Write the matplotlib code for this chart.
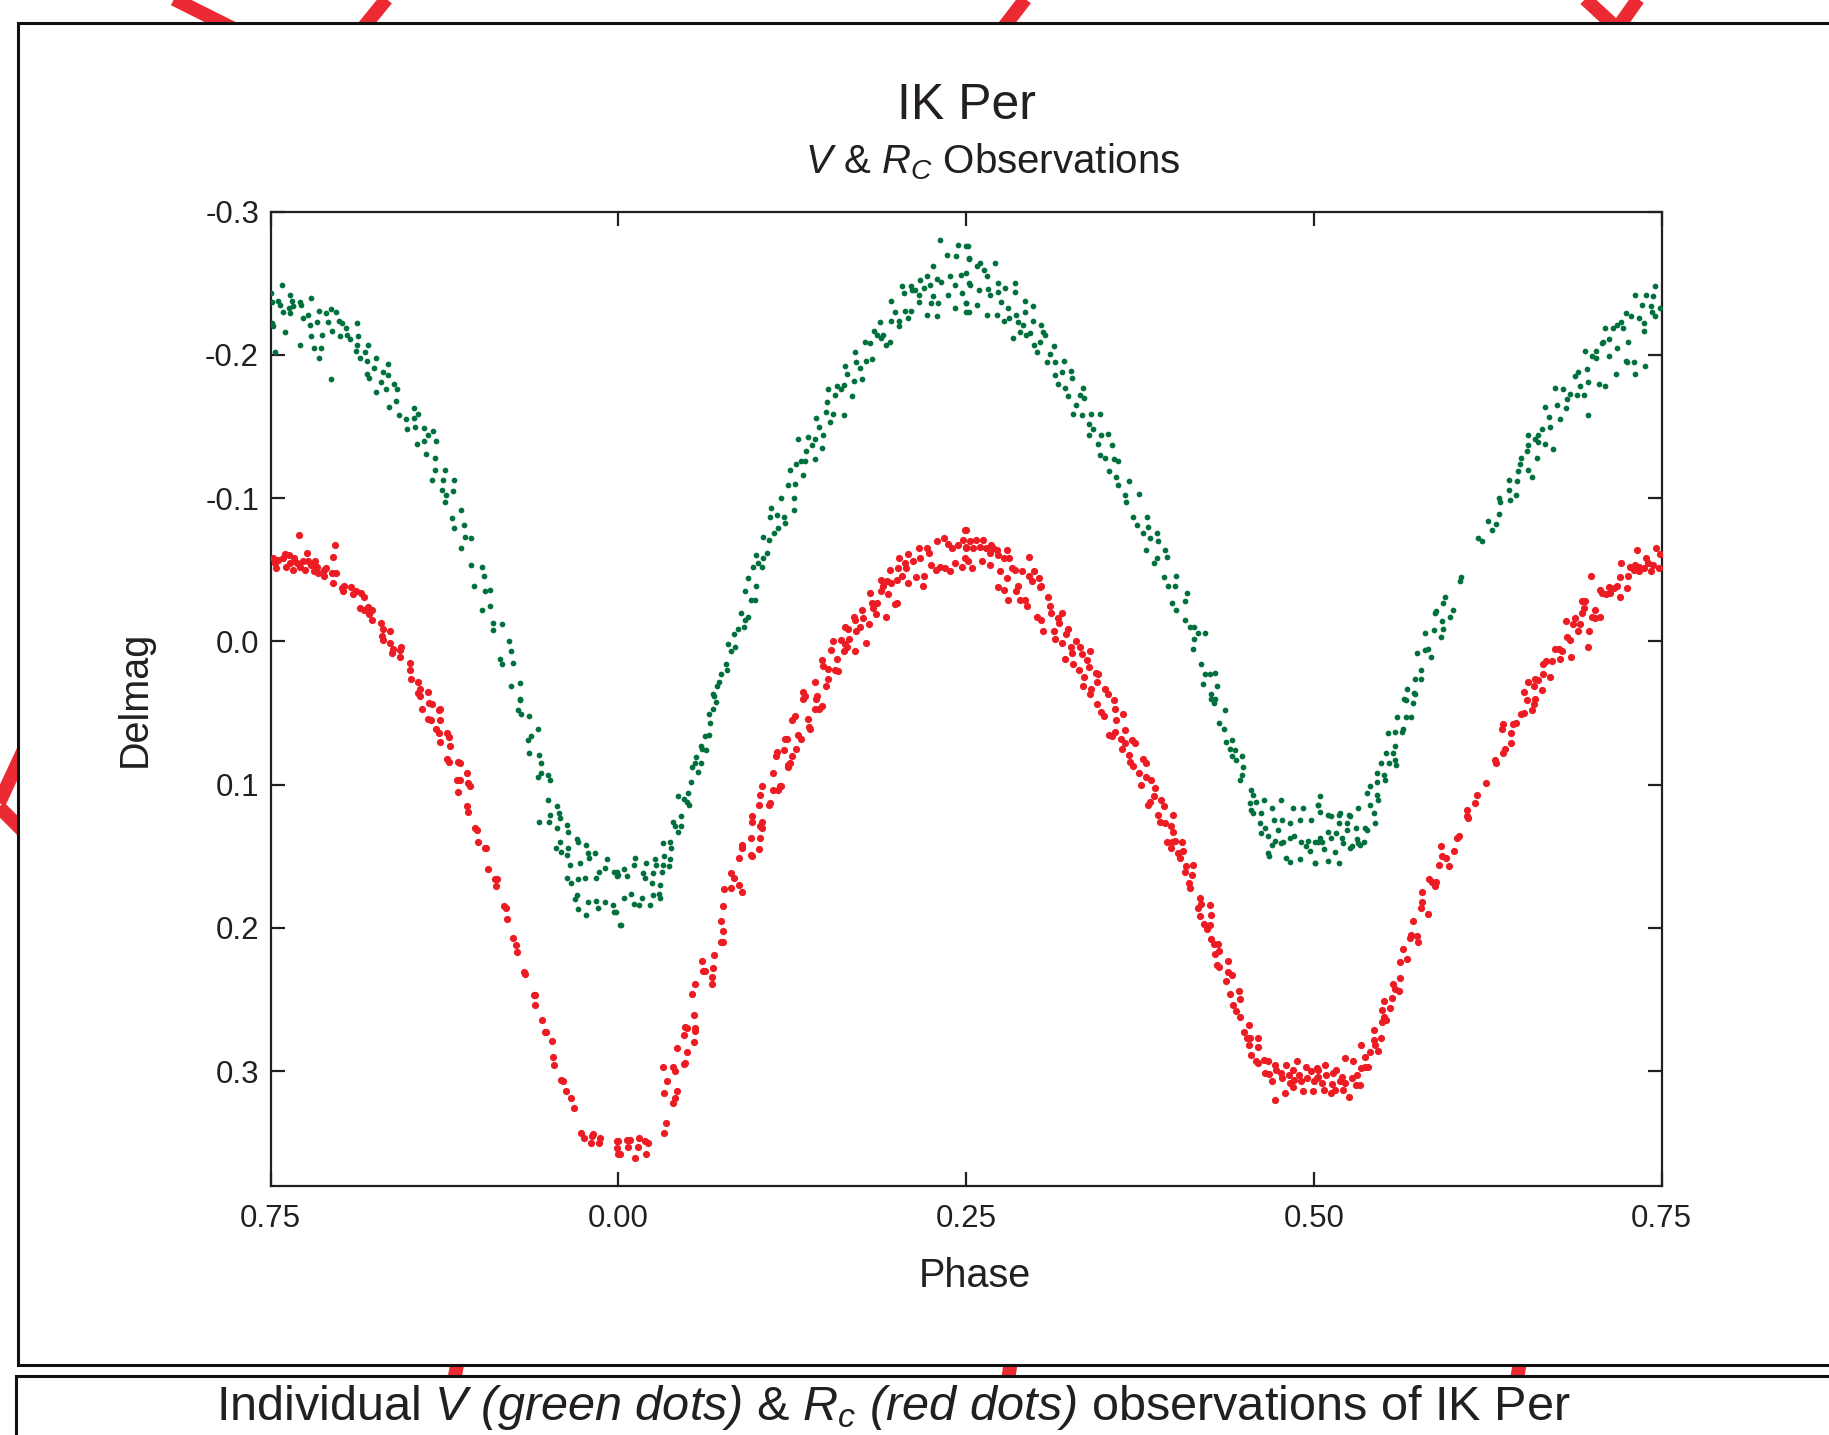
import numpy as np
import matplotlib.pyplot as plt
from matplotlib.patches import Rectangle

# ------------------------------------------------
# Data: (phase, delmag)
# ------------------------------------------------

# V band (green dots)
v_max_left = [
    (-0.250, -0.243), (-0.249, -0.237), (-0.249, -0.222), (-0.248, -0.220), (-0.247, -0.202),
    (-0.245, -0.238), (-0.242, -0.249), (-0.243, -0.235), (-0.241, -0.230), (-0.240, -0.216),
    (-0.236, -0.242), (-0.236, -0.229), (-0.235, -0.238), (-0.234, -0.234), (-0.237, -0.233),
    (-0.229, -0.237), (-0.228, -0.235), (-0.229, -0.207), (-0.227, -0.226), (-0.223, -0.228),
    (-0.221, -0.240), (-0.222, -0.221), (-0.221, -0.213), (-0.219, -0.205), (-0.217, -0.223),
    (-0.215, -0.231), (-0.214, -0.205), (-0.215, -0.198), (-0.213, -0.214), (-0.210, -0.229),
    (-0.209, -0.223), (-0.207, -0.232), (-0.207, -0.183), (-0.206, -0.217), (-0.203, -0.230),
    (-0.201, -0.224), (-0.200, -0.213), (-0.199, -0.222), (-0.196, -0.219), (-0.195, -0.214),
    (-0.193, -0.211), (-0.189, -0.203), (-0.188, -0.222), (-0.187, -0.213), (-0.188, -0.207),
    (-0.186, -0.198), (-0.182, -0.202), (-0.181, -0.196), (-0.180, -0.207), (-0.181, -0.187),
    (-0.179, -0.184), (-0.176, -0.191), (-0.174, -0.198), (-0.174, -0.174), (-0.171, -0.181),
    (-0.169, -0.188), (-0.167, -0.176), (-0.166, -0.194), (-0.166, -0.186), (-0.165, -0.164),
    (-0.161, -0.180), (-0.159, -0.176), (-0.160, -0.168), (-0.158, -0.158), (-0.153, -0.155),
    (-0.152, -0.148), (-0.147, -0.163), (-0.147, -0.156), (-0.146, -0.150), (-0.145, -0.138),
    (-0.144, -0.159), (-0.140, -0.149), (-0.140, -0.140), (-0.138, -0.131), (-0.137, -0.144),
    (-0.133, -0.147), (-0.131, -0.140), (-0.134, -0.113), (-0.132, -0.120), (-0.132, -0.128),
    (-0.125, -0.120), (-0.126, -0.113), (-0.127, -0.106), (-0.124, -0.102), (-0.125, -0.097),
    (-0.119, -0.105), (-0.118, -0.113), (-0.120, -0.086), (-0.118, -0.079), (-0.113, -0.092),
    (-0.111, -0.081), (-0.110, -0.073), (-0.113, -0.065), (-0.106, -0.072), (-0.106, -0.053),
    (-0.104, -0.039), (-0.098, -0.052), (-0.097, -0.046), (-0.096, -0.035), (-0.098, -0.022),
    (-0.092, -0.036), (-0.092, -0.025), (-0.090, -0.013), (-0.090, -0.008), (-0.084, -0.012),
    (-0.084, 0.016), (-0.085, 0.012), (-0.079, -0.000), (-0.077, 0.007), (-0.076, 0.015),
    (-0.077, 0.031), (-0.071, 0.029), (-0.071, 0.040),
]

v_min_primary = [
    (-0.071, 0.041), (-0.072, 0.048), (-0.070, 0.051), (-0.064, 0.052), (-0.058, 0.061),
    (-0.063, 0.066), (-0.065, 0.069), (-0.064, 0.078), (-0.057, 0.079), (-0.056, 0.085),
    (-0.056, 0.092), (-0.058, 0.095), (-0.051, 0.093), (-0.049, 0.097), (-0.051, 0.111),
    (-0.044, 0.115), (-0.049, 0.121), (-0.043, 0.120), (-0.042, 0.123), (-0.057, 0.126),
    (-0.050, 0.126), (-0.044, 0.130), (-0.037, 0.128), (-0.036, 0.133), (-0.042, 0.140),
    (-0.030, 0.138), (-0.029, 0.140), (-0.045, 0.144), (-0.041, 0.147), (-0.036, 0.144),
    (-0.037, 0.149), (-0.023, 0.142), (-0.022, 0.148), (-0.021, 0.151), (-0.017, 0.148),
    (-0.008, 0.152), (-0.035, 0.156), (-0.028, 0.155), (-0.014, 0.161), (-0.010, 0.158),
    (-0.003, 0.161), (-0.001, 0.164), (-0.037, 0.165), (-0.029, 0.166), (-0.024, 0.165),
    (-0.016, 0.165), (-0.034, 0.169), (-0.030, 0.177), (-0.031, 0.180), (-0.022, 0.182),
    (-0.016, 0.181), (-0.010, 0.182), (-0.004, 0.184), (-0.029, 0.187), (-0.015, 0.186),
    (-0.002, 0.189), (-0.023, 0.191), (0.001, 0.198),
    (-0.003, 0.189), (0.002, 0.198), (0.000, 0.163), (-0.001, 0.161), (0.004, 0.159),
    (0.006, 0.164), (0.004, 0.179), (0.009, 0.176), (0.011, 0.183), (0.012, 0.151),
    (0.011, 0.156), (0.017, 0.179), (0.015, 0.184), (0.018, 0.162), (0.019, 0.165),
    (0.020, 0.155), (0.023, 0.184), (0.024, 0.169), (0.025, 0.177), (0.025, 0.162),
    (0.026, 0.152), (0.027, 0.156), (0.030, 0.170), (0.030, 0.179), (0.029, 0.176),
    (0.031, 0.161), (0.032, 0.156), (0.033, 0.150), (0.036, 0.157), (0.032, 0.141),
    (0.037, 0.140), (0.038, 0.144), (0.037, 0.152), (0.039, 0.126), (0.041, 0.129),
    (0.045, 0.129), (0.043, 0.133), (0.045, 0.122), (0.043, 0.108), (0.047, 0.110),
    (0.049, 0.112), (0.051, 0.114), (0.050, 0.106), (0.052, 0.098), (0.053, 0.088),
    (0.055, 0.085), (0.059, 0.085), (0.057, 0.091), (0.056, 0.081), (0.059, 0.073),
    (0.060, 0.075), (0.063, 0.076), (0.062, 0.066), (0.065, 0.065), (0.066, 0.057),
    (0.065, 0.051), (0.068, 0.047), (0.070, 0.042), (0.069, 0.038),
]

v_rise = [
    (0.068, 0.037), (0.071, 0.031), (0.072, 0.028), (0.074, 0.023), (0.077, 0.016),
    (0.078, 0.020), (0.079, 0.002), (0.081, 0.007), (0.084, 0.004), (0.083, -0.005),
    (0.086, -0.009), (0.090, -0.010), (0.088, -0.020), (0.091, -0.015), (0.093, -0.017),
    (0.091, -0.035), (0.095, -0.029), (0.098, -0.029), (0.099, -0.039), (0.093, -0.044),
    (0.097, -0.052), (0.100, -0.055), (0.103, -0.052), (0.104, -0.058), (0.107, -0.062),
    (0.099, -0.060), (0.104, -0.073), (0.108, -0.071), (0.112, -0.076), (0.115, -0.079),
    (0.114, -0.088), (0.109, -0.087), (0.110, -0.093), (0.117, -0.100), (0.120, -0.083),
    (0.119, -0.087), (0.126, -0.092), (0.126, -0.100), (0.122, -0.109), (0.127, -0.110),
    (0.123, -0.120), (0.128, -0.124), (0.131, -0.126), (0.129, -0.141), (0.133, -0.116),
    (0.134, -0.126), (0.135, -0.133), (0.136, -0.143), (0.139, -0.137), (0.141, -0.141),
    (0.141, -0.127), (0.144, -0.150), (0.142, -0.156), (0.146, -0.135), (0.147, -0.144),
    (0.149, -0.160), (0.150, -0.167), (0.151, -0.176), (0.152, -0.153), (0.154, -0.159),
    (0.156, -0.172), (0.157, -0.178), (0.162, -0.158), (0.160, -0.176), (0.162, -0.179),
    (0.164, -0.187), (0.163, -0.192), (0.168, -0.171), (0.169, -0.182), (0.170, -0.202),
    (0.171, -0.195), (0.175, -0.183), (0.174, -0.191), (0.177, -0.209), (0.178, -0.196),
    (0.181, -0.208), (0.182, -0.197), (0.184, -0.217), (0.186, -0.214), (0.188, -0.223),
    (0.189, -0.212), (0.190, -0.214), (0.192, -0.207), (0.195, -0.209), (0.196, -0.224),
    (0.196, -0.238), (0.199, -0.230), (0.202, -0.224), (0.202, -0.220), (0.204, -0.248),
    (0.205, -0.243), (0.206, -0.231), (0.210, -0.231), (0.210, -0.248), (0.208, -0.226),
    (0.211, -0.245), (0.213, -0.245), (0.216, -0.242), (0.216, -0.237), (0.217, -0.252),
    (0.222, -0.255), (0.220, -0.247), (0.222, -0.228), (0.224, -0.249), (0.225, -0.236),
    (0.226, -0.262), (0.226, -0.241), (0.229, -0.253), (0.230, -0.236), (0.229, -0.227),
    (0.231, -0.280), (0.232, -0.251), (0.236, -0.270), (0.237, -0.242), (0.238, -0.255),
    (0.242, -0.249), (0.242, -0.233), (0.243, -0.269), (0.244, -0.277), (0.246, -0.256),
    (0.247, -0.243), (0.250, -0.236), (0.251, -0.276), (0.252, -0.268), (0.252, -0.230),
    (0.252, -0.250),
]

v_fall = [
    (0.250, -0.276), (0.252, -0.267), (0.250, -0.257), (0.253, -0.249), (0.250, -0.236),
    (0.250, -0.230), (0.258, -0.235), (0.259, -0.245), (0.258, -0.262), (0.260, -0.264),
    (0.263, -0.259), (0.265, -0.255), (0.266, -0.246), (0.265, -0.228), (0.267, -0.242),
    (0.271, -0.264), (0.272, -0.228), (0.273, -0.250), (0.273, -0.244), (0.275, -0.237),
    (0.277, -0.224), (0.278, -0.247), (0.280, -0.233), (0.281, -0.226), (0.284, -0.212),
    (0.285, -0.250), (0.285, -0.244), (0.286, -0.228), (0.287, -0.223), (0.289, -0.216),
    (0.291, -0.221), (0.292, -0.238), (0.292, -0.230), (0.293, -0.214), (0.296, -0.215),
    (0.298, -0.234), (0.298, -0.224), (0.299, -0.207), (0.301, -0.202), (0.303, -0.209),
    (0.304, -0.221), (0.305, -0.216), (0.307, -0.214), (0.308, -0.195), (0.310, -0.201),
    (0.313, -0.206), (0.314, -0.195), (0.314, -0.186), (0.316, -0.180), (0.319, -0.188),
    (0.320, -0.196), (0.321, -0.177), (0.323, -0.171), (0.325, -0.189), (0.326, -0.184),
    (0.327, -0.159), (0.329, -0.165), (0.332, -0.172), (0.333, -0.158), (0.334, -0.177),
    (0.335, -0.170), (0.338, -0.152), (0.338, -0.144), (0.340, -0.159), (0.341, -0.148),
    (0.345, -0.138), (0.346, -0.159), (0.347, -0.144), (0.346, -0.130), (0.350, -0.128),
    (0.352, -0.145), (0.355, -0.137), (0.356, -0.127), (0.359, -0.126), (0.353, -0.119),
    (0.358, -0.115), (0.359, -0.109), (0.364, -0.102), (0.367, -0.112), (0.365, -0.097),
    (0.374, -0.103), (0.370, -0.087), (0.373, -0.081), (0.377, -0.076), (0.380, -0.087),
    (0.381, -0.080), (0.382, -0.072), (0.379, -0.064), (0.387, -0.076), (0.388, -0.070),
    (0.387, -0.058), (0.385, -0.055), (0.393, -0.064), (0.394, -0.059), (0.392, -0.045),
    (0.395, -0.039), (0.401, -0.046), (0.400, -0.039), (0.398, -0.027), (0.401, -0.022),
    (0.409, -0.034), (0.407, -0.028), (0.407, -0.015), (0.411, -0.010), (0.414, -0.010),
    (0.414, -0.002), (0.413, 0.005), (0.417, -0.006), (0.422, -0.006), (0.419, 0.016),
    (0.422, 0.023), (0.425, 0.023), (0.429, 0.022), (0.420, 0.030), (0.430, 0.031),
    (0.426, 0.037), (0.429, 0.040),
]

v_min_secondary = [
    (0.426, 0.040), (0.428, 0.043), (0.436, 0.048), (0.432, 0.057), (0.435, 0.061),
    (0.437, 0.070), (0.441, 0.069), (0.440, 0.075), (0.443, 0.076), (0.441, 0.080),
    (0.444, 0.083), (0.448, 0.080), (0.449, 0.088), (0.448, 0.093), (0.447, 0.097),
    (0.455, 0.104), (0.456, 0.107), (0.454, 0.113), (0.458, 0.112), (0.464, 0.111),
    (0.455, 0.118), (0.456, 0.120), (0.462, 0.120), (0.470, 0.116), (0.476, 0.111),
    (0.485, 0.116), (0.492, 0.116), (0.503, 0.114), (0.461, 0.127), (0.465, 0.130),
    (0.471, 0.125), (0.477, 0.125), (0.483, 0.127), (0.490, 0.125), (0.498, 0.125),
    (0.474, 0.132), (0.462, 0.134), (0.467, 0.136), (0.472, 0.139), (0.478, 0.140),
    (0.483, 0.137), (0.486, 0.136), (0.491, 0.140), (0.496, 0.139), (0.501, 0.140),
    (0.470, 0.142), (0.476, 0.141), (0.494, 0.143), (0.497, 0.146), (0.467, 0.148),
    (0.468, 0.150), (0.480, 0.151), (0.483, 0.154), (0.490, 0.152), (0.501, 0.155),
    (0.503, 0.114), (0.504, 0.108), (0.504, 0.119), (0.510, 0.121), (0.512, 0.122),
    (0.518, 0.121), (0.519, 0.120), (0.525, 0.121), (0.526, 0.122), (0.532, 0.116),
    (0.504, 0.137), (0.503, 0.140), (0.506, 0.140), (0.510, 0.133), (0.512, 0.137),
    (0.516, 0.134), (0.518, 0.127), (0.521, 0.141), (0.524, 0.127), (0.524, 0.132),
    (0.520, 0.137), (0.526, 0.144), (0.527, 0.143), (0.530, 0.130), (0.531, 0.138),
    (0.532, 0.141), (0.533, 0.142), (0.536, 0.140), (0.537, 0.130), (0.538, 0.132),
    (0.543, 0.120), (0.544, 0.127), (0.540, 0.114), (0.538, 0.106), (0.540, 0.101),
    (0.545, 0.107), (0.546, 0.111), (0.545, 0.098), (0.551, 0.097), (0.550, 0.093),
    (0.545, 0.092), (0.548, 0.085), (0.554, 0.085), (0.559, 0.086), (0.558, 0.083),
    (0.557, 0.078), (0.552, 0.078), (0.558, 0.073), (0.553, 0.064), (0.558, 0.063),
    (0.564, 0.061), (0.563, 0.063), (0.560, 0.053), (0.566, 0.053), (0.570, 0.053),
    (0.566, 0.041), (0.571, 0.043), (0.573, 0.037), (0.501, 0.155), (0.510, 0.153),
    (0.518, 0.155), (0.515, 0.147), (0.507, 0.145),
]

v_max_right = [
    (0.565, 0.040), (0.567, 0.033), (0.572, 0.036), (0.573, 0.026), (0.577, 0.026),
    (0.577, 0.020), (0.574, 0.008), (0.580, 0.006), (0.584, 0.011), (0.582, 0.005),
    (0.580, -0.006), (0.586, -0.008), (0.591, -0.003), (0.593, -0.009), (0.592, -0.014),
    (0.587, -0.020), (0.588, -0.021), (0.593, -0.027), (0.594, -0.031), (0.598, -0.017),
    (0.600, -0.022), (0.605, -0.042), (0.606, -0.045), (0.618, -0.072), (0.621, -0.070),
    (0.625, -0.084), (0.628, -0.078), (0.631, -0.082), (0.633, -0.089), (0.634, -0.097),
    (0.633, -0.100), (0.640, -0.106), (0.641, -0.099), (0.640, -0.113), (0.646, -0.112),
    (0.647, -0.119), (0.645, -0.102), (0.648, -0.124), (0.649, -0.128), (0.654, -0.120),
    (0.657, -0.115), (0.653, -0.133), (0.654, -0.137), (0.660, -0.128), (0.661, -0.139),
    (0.659, -0.141), (0.654, -0.144), (0.661, -0.144), (0.664, -0.148), (0.666, -0.138),
    (0.672, -0.134), (0.666, -0.164), (0.669, -0.157), (0.670, -0.150), (0.675, -0.165),
    (0.677, -0.155), (0.681, -0.163), (0.682, -0.169), (0.673, -0.177), (0.679, -0.176),
    (0.684, -0.173), (0.689, -0.172), (0.694, -0.172), (0.691, -0.178), (0.697, -0.158),
    (0.688, -0.185), (0.690, -0.188), (0.696, -0.190), (0.697, -0.181), (0.705, -0.180),
    (0.709, -0.178), (0.700, -0.199), (0.703, -0.198), (0.695, -0.203), (0.703, -0.203),
    (0.707, -0.208), (0.708, -0.209), (0.712, -0.199), (0.712, -0.211), (0.709, -0.219),
    (0.715, -0.219), (0.718, -0.205), (0.717, -0.187), (0.718, -0.221), (0.721, -0.223),
    (0.722, -0.219), (0.724, -0.229), (0.724, -0.196), (0.725, -0.195), (0.726, -0.209),
    (0.728, -0.227), (0.730, -0.195), (0.731, -0.187), (0.731, -0.242), (0.734, -0.226),
    (0.737, -0.222), (0.737, -0.217), (0.738, -0.192), (0.739, -0.242), (0.736, -0.235),
    (0.742, -0.234), (0.743, -0.230), (0.744, -0.241), (0.745, -0.248), (0.745, -0.227),
    (0.749, -0.233),
]

# Rc band (red dots)
rc_max_left = [
    (-0.248, -0.058), (-0.247, -0.055), (-0.246, -0.051), (-0.245, -0.057), (-0.241, -0.058),
    (-0.240, -0.061), (-0.239, -0.052), (-0.237, -0.060), (-0.236, -0.055), (-0.234, -0.050),
    (-0.233, -0.058), (-0.231, -0.055), (-0.230, -0.074), (-0.229, -0.052), (-0.227, -0.056),
    (-0.225, -0.050), (-0.224, -0.062), (-0.223, -0.056), (-0.221, -0.053), (-0.219, -0.049),
    (-0.218, -0.056), (-0.217, -0.052), (-0.216, -0.048), (-0.212, -0.050), (-0.212, -0.046),
    (-0.210, -0.051), (-0.205, -0.059), (-0.204, -0.067), (-0.206, -0.048), (-0.203, -0.048),
    (-0.205, -0.041), (-0.199, -0.037), (-0.197, -0.039), (-0.198, -0.035), (-0.192, -0.038),
    (-0.191, -0.033), (-0.189, -0.035), (-0.185, -0.034), (-0.183, -0.031), (-0.186, -0.023),
    (-0.183, -0.022), (-0.180, -0.024), (-0.177, -0.022), (-0.179, -0.019), (-0.177, -0.015),
    (-0.171, -0.013), (-0.169, -0.009), (-0.170, -0.004), (-0.169, -0.001), (-0.164, -0.007),
    (-0.164, 0.001), (-0.162, 0.005), (-0.163, 0.008), (-0.157, 0.006), (-0.156, 0.004),
    (-0.157, 0.011), (-0.150, 0.015), (-0.150, 0.020), (-0.149, 0.026), (-0.144, 0.028),
    (-0.143, 0.033), (-0.144, 0.036), (-0.137, 0.035),
]

rc_min_primary = [
    (-0.143, 0.038), (-0.141, 0.047), (-0.136, 0.043), (-0.134, 0.044), (-0.129, 0.048),
    (-0.128, 0.047), (-0.137, 0.054), (-0.135, 0.055), (-0.128, 0.055), (-0.131, 0.061),
    (-0.129, 0.064), (-0.128, 0.070), (-0.123, 0.064), (-0.122, 0.067), (-0.121, 0.073),
    (-0.123, 0.082), (-0.122, 0.084), (-0.115, 0.084), (-0.114, 0.085), (-0.109, 0.092),
    (-0.116, 0.097), (-0.114, 0.097), (-0.108, 0.099), (-0.107, 0.101), (-0.115, 0.105),
    (-0.109, 0.115), (-0.108, 0.119), (-0.103, 0.130), (-0.102, 0.132), (-0.101, 0.140),
    (-0.096, 0.144), (-0.095, 0.144), (-0.094, 0.159), (-0.089, 0.166), (-0.087, 0.166),
    (-0.088, 0.171), (-0.082, 0.185), (-0.081, 0.186), (-0.080, 0.194), (-0.076, 0.207),
    (-0.074, 0.212), (-0.073, 0.217), (-0.068, 0.231), (-0.067, 0.232), (-0.061, 0.247),
    (-0.060, 0.247), (-0.060, 0.254), (-0.055, 0.264), (-0.053, 0.273), (-0.052, 0.273),
    (-0.048, 0.279), (-0.047, 0.290), (-0.046, 0.296), (-0.041, 0.306), (-0.040, 0.307),
    (-0.038, 0.314), (-0.034, 0.319), (-0.032, 0.326), (-0.027, 0.343), (-0.025, 0.347),
    (-0.020, 0.350), (-0.019, 0.345), (-0.018, 0.344), (-0.014, 0.350), (-0.013, 0.347),
    (-0.001, 0.349), (-0.001, 0.354), (0.001, 0.358), (0.000, 0.358), (0.000, 0.349),
    (0.006, 0.348), (0.007, 0.353), (0.008, 0.348), (0.012, 0.361), (0.014, 0.353),
    (0.015, 0.347), (0.019, 0.349), (0.020, 0.358), (0.021, 0.350), (0.033, 0.343),
    (0.034, 0.336), (0.032, 0.297), (0.035, 0.307), (0.033, 0.315), (0.039, 0.297),
    (0.041, 0.300), (0.042, 0.314), (0.041, 0.319), (0.039, 0.322), (0.042, 0.284),
    (0.047, 0.295), (0.048, 0.294), (0.049, 0.287), (0.047, 0.275), (0.048, 0.269),
    (0.049, 0.270), (0.054, 0.280), (0.055, 0.270), (0.055, 0.272), (0.054, 0.261),
    (0.053, 0.246), (0.055, 0.239),
]

rc_rise = [
    (0.060, 0.223), (0.061, 0.230), (0.062, 0.230), (0.067, 0.234), (0.067, 0.239),
    (0.068, 0.228), (0.069, 0.219), (0.074, 0.210), (0.075, 0.210), (0.075, 0.202),
    (0.074, 0.195), (0.075, 0.185), (0.076, 0.173), (0.081, 0.172), (0.081, 0.162),
    (0.083, 0.165), (0.087, 0.170), (0.089, 0.175), (0.087, 0.151), (0.089, 0.144),
    (0.089, 0.142), (0.095, 0.149), (0.096, 0.150), (0.095, 0.137), (0.101, 0.145),
    (0.102, 0.137), (0.103, 0.130), (0.102, 0.129), (0.096, 0.126), (0.096, 0.122),
    (0.103, 0.126), (0.101, 0.114), (0.102, 0.107), (0.103, 0.101), (0.108, 0.114),
    (0.109, 0.113), (0.111, 0.092), (0.111, 0.104), (0.115, 0.104), (0.116, 0.101),
    (0.117, 0.101), (0.122, 0.088), (0.123, 0.085), (0.125, 0.080), (0.122, 0.086),
    (0.113, 0.080), (0.114, 0.077), (0.119, 0.076), (0.128, 0.075), (0.120, 0.068),
    (0.121, 0.068), (0.129, 0.065), (0.131, 0.068), (0.125, 0.055), (0.127, 0.052),
    (0.137, 0.060), (0.138, 0.061), (0.136, 0.054), (0.141, 0.047), (0.144, 0.047),
    (0.146, 0.045), (0.133, 0.040), (0.142, 0.040),
    (0.133, 0.035), (0.134, 0.038), (0.143, 0.038), (0.141, 0.028), (0.149, 0.031),
    (0.151, 0.026), (0.147, 0.017), (0.146, 0.013), (0.151, 0.019), (0.156, 0.020),
    (0.158, 0.021), (0.157, 0.012), (0.153, 0.006), (0.154, 0.000), (0.162, 0.007),
    (0.164, 0.004), (0.160, -0.001), (0.163, 0.002), (0.166, -0.002), (0.170, 0.007),
    (0.171, -0.007), (0.178, 0.001), (0.165, -0.009), (0.163, -0.010), (0.170, -0.015),
    (0.176, -0.016), (0.174, -0.010), (0.180, -0.012), (0.169, -0.017), (0.175, -0.022),
    (0.183, -0.023), (0.186, -0.027), (0.185, -0.019), (0.192, -0.017), (0.182, -0.027),
    (0.181, -0.034), (0.189, -0.035), (0.194, -0.033), (0.200, -0.027), (0.199, -0.026),
    (0.190, -0.039), (0.193, -0.042), (0.189, -0.043), (0.196, -0.041), (0.200, -0.043),
    (0.195, -0.050), (0.201, -0.051), (0.202, -0.058), (0.204, -0.046), (0.207, -0.051),
    (0.208, -0.041), (0.206, -0.055), (0.208, -0.061), (0.212, -0.056), (0.214, -0.045),
    (0.216, -0.065), (0.217, -0.058), (0.219, -0.039), (0.220, -0.046), (0.222, -0.065),
    (0.223, -0.062), (0.225, -0.053), (0.228, -0.050), (0.229, -0.070), (0.231, -0.052),
    (0.234, -0.072), (0.235, -0.051), (0.237, -0.068), (0.238, -0.049), (0.240, -0.065),
    (0.242, -0.055), (0.244, -0.067), (0.247, -0.052), (0.248, -0.071), (0.249, -0.078),
    (0.249, -0.058), (0.250, -0.065),
]

rc_fall = [
    (0.250, -0.078), (0.250, -0.066), (0.251, -0.056), (0.253, -0.070), (0.254, -0.051),
    (0.255, -0.065), (0.257, -0.071), (0.260, -0.066), (0.261, -0.056), (0.262, -0.071),
    (0.264, -0.065), (0.267, -0.062), (0.267, -0.053), (0.268, -0.067), (0.269, -0.065),
    (0.272, -0.064), (0.273, -0.060), (0.273, -0.038), (0.274, -0.049), (0.277, -0.058),
    (0.277, -0.036), (0.279, -0.064), (0.279, -0.044), (0.280, -0.029), (0.281, -0.058),
    (0.283, -0.051), (0.285, -0.050), (0.286, -0.035), (0.287, -0.039), (0.289, -0.029),
    (0.290, -0.049), (0.292, -0.029), (0.294, -0.025), (0.295, -0.059), (0.295, -0.046),
    (0.297, -0.042), (0.299, -0.049), (0.301, -0.017), (0.302, -0.044), (0.303, -0.038),
    (0.304, -0.039), (0.304, -0.015), (0.305, -0.007), (0.309, -0.031), (0.310, -0.025),
    (0.311, -0.020), (0.313, -0.007), (0.314, -0.002), (0.316, -0.016), (0.317, -0.013),
    (0.319, -0.020), (0.319, 0.001), (0.321, 0.012), (0.322, -0.005), (0.323, -0.009),
    (0.325, 0.004), (0.326, 0.008), (0.327, 0.016), (0.329, 0.000), (0.331, 0.020),
    (0.332, 0.004), (0.333, 0.009), (0.334, 0.031), (0.335, 0.025), (0.337, 0.013),
    (0.338, 0.018), (0.339, 0.007), (0.340, 0.033), (0.343, 0.022), (0.344, 0.028),
    (0.345, 0.023), (0.350, 0.033), (0.352, 0.037),
    (0.339, 0.037), (0.344, 0.044), (0.347, 0.049), (0.349, 0.052), (0.356, 0.041),
    (0.357, 0.047), (0.363, 0.051), (0.358, 0.055), (0.353, 0.065), (0.357, 0.063),
    (0.355, 0.066), (0.361, 0.068), (0.364, 0.062), (0.362, 0.075), (0.364, 0.071),
    (0.369, 0.069), (0.371, 0.071), (0.367, 0.079), (0.368, 0.084), (0.370, 0.087),
    (0.374, 0.092), (0.377, 0.082), (0.379, 0.085), (0.376, 0.100), (0.379, 0.095),
    (0.383, 0.097), (0.386, 0.102), (0.382, 0.112), (0.381, 0.114), (0.385, 0.108),
    (0.390, 0.111), (0.392, 0.115), (0.388, 0.121), (0.389, 0.126), (0.393, 0.127),
    (0.397, 0.129), (0.399, 0.121), (0.399, 0.133), (0.398, 0.140), (0.394, 0.140),
    (0.400, 0.139), (0.397, 0.144), (0.405, 0.140), (0.406, 0.146), (0.402, 0.148),
    (0.404, 0.151), (0.408, 0.157), (0.413, 0.156), (0.407, 0.161), (0.412, 0.163),
    (0.410, 0.169), (0.411, 0.172), (0.418, 0.179), (0.419, 0.183), (0.417, 0.186),
    (0.425, 0.184), (0.418, 0.192), (0.426, 0.191), (0.421, 0.197), (0.425, 0.198),
    (0.423, 0.201), (0.426, 0.208), (0.428, 0.211), (0.431, 0.211), (0.432, 0.216),
    (0.429, 0.218), (0.438, 0.223), (0.430, 0.226), (0.432, 0.227), (0.438, 0.231),
    (0.437, 0.237), (0.441, 0.233), (0.440, 0.246), (0.446, 0.244), (0.442, 0.254),
    (0.447, 0.250), (0.444, 0.258), (0.447, 0.262), (0.453, 0.268), (0.450, 0.273),
    (0.452, 0.277), (0.454, 0.277), (0.460, 0.277), (0.453, 0.282), (0.455, 0.289),
    (0.460, 0.283), (0.458, 0.293), (0.460, 0.294),
]

rc_min_secondary = [
    (0.464, 0.292), (0.467, 0.293), (0.465, 0.301), (0.468, 0.302), (0.472, 0.296),
    (0.473, 0.299), (0.476, 0.301), (0.470, 0.307), (0.477, 0.305), (0.480, 0.296),
    (0.482, 0.303), (0.485, 0.299), (0.488, 0.293), (0.489, 0.303), (0.483, 0.308),
    (0.486, 0.306), (0.491, 0.307), (0.494, 0.297), (0.495, 0.305), (0.498, 0.300),
    (0.500, 0.307), (0.502, 0.298), (0.503, 0.304), (0.472, 0.320), (0.479, 0.315),
    (0.492, 0.314), (0.499, 0.314), (0.485, 0.311),
    (0.502, 0.305), (0.503, 0.299), (0.506, 0.308), (0.507, 0.313), (0.508, 0.296),
    (0.509, 0.303), (0.512, 0.315), (0.513, 0.309), (0.514, 0.301), (0.515, 0.313),
    (0.516, 0.299), (0.519, 0.307), (0.520, 0.304), (0.521, 0.313), (0.522, 0.308),
    (0.522, 0.291), (0.525, 0.318), (0.527, 0.305), (0.528, 0.293), (0.530, 0.310),
    (0.531, 0.303), (0.533, 0.310), (0.534, 0.298), (0.537, 0.297), (0.539, 0.297),
]

rc_max_right = [
    (0.534, 0.282), (0.537, 0.290), (0.540, 0.287), (0.543, 0.278), (0.544, 0.282),
    (0.543, 0.271), (0.546, 0.286), (0.548, 0.277), (0.549, 0.266), (0.550, 0.262),
    (0.552, 0.264), (0.549, 0.257), (0.550, 0.251), (0.555, 0.256), (0.556, 0.249),
    (0.558, 0.243), (0.561, 0.244), (0.557, 0.239), (0.562, 0.235), (0.562, 0.224),
    (0.567, 0.222), (0.564, 0.215), (0.570, 0.205), (0.569, 0.207), (0.574, 0.206),
    (0.575, 0.210), (0.571, 0.195), (0.578, 0.182), (0.577, 0.186), (0.582, 0.190),
    (0.578, 0.175), (0.583, 0.166), (0.585, 0.168), (0.588, 0.168), (0.587, 0.171),
    (0.590, 0.156), (0.592, 0.150), (0.595, 0.151), (0.597, 0.157), (0.591, 0.143),
    (0.601, 0.146), (0.603, 0.137), (0.604, 0.136), (0.610, 0.122), (0.611, 0.123),
    (0.610, 0.118), (0.616, 0.113), (0.617, 0.107), (0.624, 0.099), (0.630, 0.083),
    (0.631, 0.085), (0.636, 0.078), (0.637, 0.075), (0.642, 0.071), (0.642, 0.064),
    (0.635, 0.061), (0.636, 0.058), (0.643, 0.058), (0.645, 0.057), (0.649, 0.051),
    (0.651, 0.050), (0.657, 0.048), (0.658, 0.044), (0.653, 0.041), (0.659, 0.040),
    (0.651, 0.035), (0.654, 0.028), (0.658, 0.031), (0.659, 0.026), (0.661, 0.027),
    (0.665, 0.023), (0.664, 0.034), (0.670, 0.025), (0.665, 0.016), (0.667, 0.014),
    (0.671, 0.014), (0.673, 0.005), (0.676, 0.005), (0.678, 0.007), (0.677, 0.012),
    (0.685, 0.011), (0.682, -0.003), (0.684, -0.001), (0.681, -0.014), (0.686, -0.012),
    (0.688, -0.016), (0.691, -0.012), (0.690, -0.007), (0.698, -0.007), (0.697, 0.004),
    (0.693, -0.020), (0.694, -0.023), (0.695, -0.028), (0.693, -0.028), (0.702, -0.022),
    (0.700, -0.017), (0.706, -0.017), (0.702, -0.016), (0.699, -0.046), (0.706, -0.036),
    (0.707, -0.034), (0.712, -0.038), (0.713, -0.034), (0.710, -0.033), (0.716, -0.037),
    (0.718, -0.039), (0.720, -0.031), (0.720, -0.045), (0.721, -0.055), (0.725, -0.037),
    (0.726, -0.046), (0.727, -0.052), (0.730, -0.050), (0.731, -0.053), (0.732, -0.064),
    (0.734, -0.052), (0.734, -0.049), (0.737, -0.051), (0.739, -0.058), (0.740, -0.055),
    (0.742, -0.049), (0.744, -0.053), (0.746, -0.065), (0.748, -0.051), (0.749, -0.061),
]

x_ticks = [-0.25, 0.0, 0.25, 0.5, 0.75]
x_ticklabels = ["0.75", "0.00", "0.25", "0.50", "0.75"]
y_ticks = [-0.3, -0.2, -0.1, 0.0, 0.1, 0.2, 0.3]
y_ticklabels = ["-0.3", "-0.2", "-0.1", "0.0", "0.1", "0.2", "0.3"]

# ------------------------------------------------
# Style
# ------------------------------------------------
plt.rcParams["font.family"] = ["Liberation Sans", "DejaVu Sans"]
plt.rcParams["mathtext.fontset"] = "custom"
# math parts are all italic in this figure (V, R_c and the bracketed notes)
plt.rcParams["mathtext.rm"] = "Liberation Sans:italic"
plt.rcParams["mathtext.it"] = "Liberation Sans:italic"

ink = "#231f20"
green = "#00703c"
red = "#ed1c24"
deco_red = "#ec2a33"

W, H = 1829, 1435
fig = plt.figure(figsize=(W / 100, H / 100), dpi=100)

# page background: red decoration strokes behind two white panels
bg = fig.add_axes([0, 0, 1, 1])
bg.set_xlim(0, W)
bg.set_ylim(H, 0)
bg.axis("off")
strokes = [
    ((136, -20), (246, 35)),
    ((402, -20), (349, 45)),
    ((1040, -20), (990, 45)),
    ((1570, -15), (1622, 33)),
    ((1648, -15), (1614, 33)),
    ((40, 715), (-8, 818)),
    ((-8, 800), (40, 848)),
    ((459, 1355), (453, 1386)),
    ((1012, 1355), (1007, 1386)),
    ((1521, 1355), (1516, 1386)),
]
for (x0, y0), (x1, y1) in strokes:
    bg.plot([x0, x1], [y0, y1], color=deco_red, lw=10, solid_capstyle="butt", zorder=1)
bg.add_patch(Rectangle((18, 23), W, 1365 - 23, facecolor="white", edgecolor="#111111",
                       lw=2.2, zorder=3))
bg.add_patch(Rectangle((16, 1376), W, 120, facecolor="white", edgecolor="#111111",
                       lw=2.2, zorder=3))

# ------------------------------------------------
# Light curve
# ------------------------------------------------
ax = fig.add_axes([270.7 / W, 1 - 1185.7 / H, 1391 / W, 974 / H])

v_all = v_max_left + v_min_primary + v_rise + v_fall + v_min_secondary + v_max_right
rc_all = rc_max_left + rc_min_primary + rc_rise + rc_fall + rc_min_secondary + rc_max_right
v_phase, v_mag = np.array(v_all).T
rc_phase, rc_mag = np.array(rc_all).T

ax.scatter(v_phase, v_mag, s=17, color=green, linewidths=0, zorder=3)
ax.scatter(rc_phase, rc_mag, s=27, color=red, linewidths=0, zorder=3)

ax.set_xlim(-0.25, 0.75)
ax.set_ylim(0.38, -0.3)
ax.set_xticks(x_ticks)
ax.set_xticklabels(x_ticklabels)
ax.set_yticks(y_ticks)
ax.set_yticklabels(y_ticklabels)

for sp in ax.spines.values():
    sp.set_linewidth(1.6)
    sp.set_color(ink)
ax.tick_params(axis="both", which="both", direction="in", top=True, right=True,
               length=10, width=1.6, color=ink, labelcolor=ink, labelsize=22.5)
ax.tick_params(axis="x", pad=13.5)
ax.tick_params(axis="y", pad=8.4)

ax.set_xlabel("Phase", fontsize=28.5, color=ink)
ax.set_ylabel("Delmag", fontsize=28.5, color=ink)
ax.xaxis.set_label_coords(0.506, -0.073)
ax.yaxis.set_label_coords(-0.084, 0.5)

fig.text(966 / W, 1 - 119 / H, "IK Per", fontsize=36, color=ink,
         ha="center", va="baseline")
fig.text(805 / W, 1 - 173.3 / H, r"$V$ & $R_C$ Observations", fontsize=29, color=ink,
         ha="left", va="baseline")
fig.text(216 / W, 1 - 1420 / H,
         r"Individual $V\ (green\ dots)$ & $R_c\ (red\ dots)$ observations of IK Per",
         fontsize=35, color=ink, ha="left", va="baseline")

fig.savefig("out.png", dpi=100)
